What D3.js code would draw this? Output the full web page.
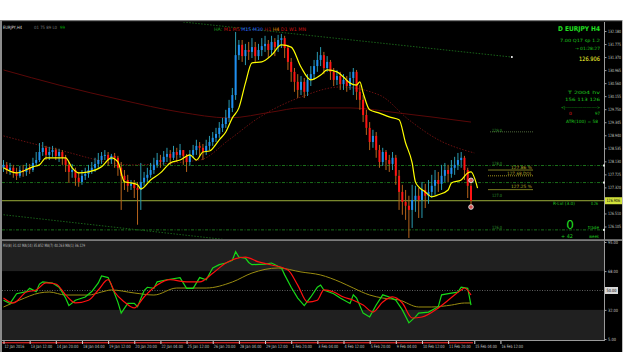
<!DOCTYPE html>
<html>
<head>
  <meta charset="UTF-8">
  <style>
    body { margin: 0; background-color: white; }
    svg { display: block; }
    text { font-family: "DejaVu Sans", sans-serif; }
  </style>
</head>
<body>
<svg></svg>
<script src="https://d3js.org/d3.v7.min.js"></script>
<script>

let width = 625, height = 352;

// EURJPY H4 bars (open = previous close)
let firstOpen = 127.93;
let closes = [128.02,127.86,127.93,127.80,127.68,127.86,127.80,127.93,127.86,128.08,
  128.17,128.42,128.55,128.33,128.42,128.48,128.30,128.42,128.24,128.02,
  127.80,127.86,127.62,127.49,127.68,127.74,127.86,127.93,128.05,128.17,
  128.30,128.33,128.17,128.30,128.24,127.93,127.68,127.55,127.37,127.43,
  127.30,127.24,127.49,127.62,127.71,127.86,128.02,128.17,128.11,128.27,
  128.36,128.24,128.42,128.33,128.48,128.30,128.11,128.33,128.48,128.61,
  128.55,128.42,128.61,128.73,128.86,128.98,129.17,129.29,129.48,129.79,
  130.19,131.43,131.75,131.40,131.59,131.53,131.68,131.40,131.59,131.71,
  131.78,131.59,131.84,131.68,131.90,131.96,131.65,131.22,130.91,130.60,
  130.35,130.60,130.29,130.66,130.84,131.09,131.28,131.43,131.03,131.22,
  130.91,130.66,130.78,130.53,130.66,130.47,130.72,130.91,130.29,130.04,
  129.57,129.17,128.73,128.92,128.48,128.11,128.42,128.17,128.05,128.24,
  127.68,127.18,126.87,126.75,126.62,126.93,127.06,126.93,127.24,127.06,
  127.18,127.37,127.55,127.43,127.68,127.86,127.74,127.93,128.02,128.17,
  128.24,127.86,127.37,126.91];
let highs = [128.17,128.11,128.08,128.02,127.93,127.99,128.02,128.08,128.05,128.24,
  128.42,128.70,128.73,128.61,128.58,128.61,128.55,128.52,128.48,128.33,
  128.11,128.05,127.93,127.80,127.86,127.93,128.02,128.11,128.24,128.39,
  128.42,128.48,128.42,128.36,128.39,128.30,128.11,127.86,127.71,127.55,
  127.55,127.49,128.08,127.80,127.93,128.08,128.24,128.39,128.33,128.45,
  128.55,128.48,128.61,128.55,128.67,128.48,128.36,128.48,128.64,128.80,
  128.73,128.67,128.80,128.92,129.04,129.17,129.35,129.48,129.73,130.04,
  130.41,132.15,131.90,131.90,131.78,131.84,131.96,131.84,131.78,131.96,
  132.03,131.90,132.03,131.96,132.06,132.09,132.03,131.75,131.34,131.03,
  130.84,130.78,130.72,130.84,131.09,131.28,131.53,131.68,131.53,131.40,
  131.28,131.03,130.97,130.91,130.84,130.78,130.91,131.03,130.97,130.50,
  130.19,129.73,129.35,129.11,129.04,128.64,128.55,128.48,128.33,128.42,
  128.33,127.86,127.40,127.24,127.06,127.40,127.37,127.30,127.49,127.43,
  127.55,127.71,127.86,127.80,128.02,128.08,128.02,128.17,128.27,128.39,
  128.42,128.30,127.93,127.49];
let lows = [127.80,127.74,127.71,127.62,127.55,127.62,127.65,127.68,127.74,127.80,
  127.99,128.11,128.30,128.17,128.17,128.27,128.17,128.11,128.02,127.80,
  127.46,127.62,127.37,127.34,127.40,127.55,127.62,127.74,127.80,127.93,
  128.05,128.17,127.99,128.05,127.93,127.68,126.62,127.24,127.18,127.24,
  126.99,126.16,126.62,127.37,127.49,127.62,127.74,127.93,127.93,128.02,
  128.11,128.02,128.17,128.11,128.24,128.02,127.80,127.99,128.24,128.33,
  128.30,128.17,128.33,128.48,128.61,128.73,128.86,129.04,129.17,129.35,
  129.66,130.04,131.28,131.22,131.12,131.28,131.34,131.22,131.28,131.40,
  131.53,131.34,131.43,131.40,131.53,131.65,131.34,130.97,130.60,130.29,
  130.10,130.19,130.10,130.16,130.47,130.66,130.91,131.09,130.84,130.91,
  130.66,130.47,130.50,130.35,130.35,130.29,130.35,130.19,130.04,129.73,
  129.35,128.95,128.48,128.55,128.24,127.93,127.99,127.86,127.80,127.86,
  127.40,126.62,126.47,126.31,125.75,126.06,126.56,126.37,126.37,126.68,
  126.81,126.99,127.09,127.18,127.24,127.49,127.49,127.62,127.71,127.86,
  127.93,127.55,126.99,126.71];

// moving averages on the price chart: [bar, price]
let maYellow = [[0,127.93],[4,127.77],[9,127.96],[11,128.02],[13,128.24],[17,128.24],[19,128.24],[21,127.93],[23,127.77],[26,127.80],
  [30,127.96],[33,128.24],[35,128.11],[37,127.49],[39,127.46],[41,127.40],[42,127.27],[45,127.55],[48,127.77],[51,128.08],
  [54,128.17],[57,128.33],[59,128.17],[61,128.42],[63,128.45],[66,128.80],[68,129.04],[70,129.48],[72,129.79],[74,130.56],
  [76,131.19],[79,131.22],[82,131.43],[85,131.75],[88,131.68],[91,131.06],[94,130.66],[97,130.81],[99,130.97],[102,130.91],
  [104,130.75],[106,130.56],[108,130.50],[109,130.60],[110,130.26],[112,129.73],[115,129.63],[118,129.51],[121,129.42],[123,128.70],
  [125,128.08],[126,127.49],[127,127.34],[129,127.18],[131,127.03],[133,127.09],[136,127.24],[137,127.46],[140,127.55],[142,127.77],
  [143,127.80],[145,127.30]];
let maSlow = [[0,130.97],[17,130.50],[36,130.04],[54,129.66],[69,129.48],[82,129.66],[91,129.79],[106,129.79],[121,129.63],[143,129.35]];
let maMid = [[0,128.92],[17,128.48],[39,128.02],[60,128.17],[69,128.80],[78,129.48],[91,130.13],[103,130.44],[115,130.19],[124,129.42],[133,128.80],[144,128.39]];

// trend lines and levels
let trendLines = [[[55,132.46],[155.5,131.37]], [[0,126.47],[72,125.65]]];
let hLevels = [128.00, 127.47, 126.00];
let fibLevels = [129.0, 128.0, 127.0, 126.0];
let fibLabels = ["129.0", "128.0", "127.0", "126.0"];
let pivotLevels = [127.86, 127.68, 127.25];
let pivotLabels = ["127.86 %", "127.68.DOL", "127.25 %"];
let currentPrice = 126.906;

// RSI window: [bar, value]
let rsiGreen = [[0,41],[2,38],[4,47],[7,49],[8,52],[10,49],[11,56],[12,58],[15,57],[17,53],[19,43],[20,36],[22,41],[25,44],[27,49],
  [29,57],[30,63.5],[32,62],[33,55],[35,39],[36,29],[38,38],[40,38],[41,35],[43,50],[44,53],[46,52],[47,58],[50,60],[54,62],
  [56,52],[58,52],[60,62],[62,60],[64,71],[66,74],[68,75.5],[70,78],[71,86],[72,81],[74,80],[75,76],[76,74],[80,74.5],[82,75.5],
  [85,71],[86,64.5],[88,53],[90,43],[92,36],[94,44],[96,53],[97,55],[98,50.5],[101,47],[103,43],[106,38],[107,46],[108,43],[110,29],
  [112,25.5],[114,36.5],[116,46],[118,44],[120,41],[122,32],[124,20],[126,25.5],[127,29],[130,30],[133,35],[134,46],[137,47.5],[139,48.5],
  [140,53],[142,52],[143,36.5]];
let rsiRed = [[0,43],[3,38.4],[7,48.6],[10,50.5],[13,57],[16,56],[19,46],[22,38.5],[26,41],[29,50.5],[32,60],[34,48.6],[37,39.3],[40,33.8],
  [43,44],[47,55],[51,60],[56,58],[60,58],[64,66],[68,75.5],[74,81],[78,76.5],[82,73.7],[87,69],[90,55],[93,39.3],[96,41],[98,50.5],
  [101,48.6],[104,44],[107,41],[110,36.5],[113,30],[116,39.3],[119,44],[122,38.4],[125,24.5],[128,25.4],[133,33.8],[136,41],[140,50.5],
  [141,52.3],[143,45.8]];
let rsiOlive = [[0,34.7],[5,41.2],[11,47.7],[14,48.6],[19,45.8],[26,45.8],[30,48.6],[33,50.5],[40,47.7],[46,45.8],[53,52.3],[62,52.3],
  [70,57.9],[76,66.2],[84,70.9],[91,67.2],[97,64.4],[103,57.9],[107,52.3],[112,45.8],[116,43],[121,41.2],[127,34.7],[131,34.7],
  [137,36.5],[141,38.4],[143,38.4]];

// axis labels
let priceTicks = [132.18,131.775,131.37,130.965,130.56,130.155,129.75,129.345,128.94,128.535,128.13,127.725,127.32,126.51,126.105];
let rsiTicks = [95, 68, 32, 5];
let timeLabels = ["12 Jan 2016","13 Jan 12:00","14 Jan 20:00","18 Jan 04:00","19 Jan 12:00","20 Jan 20:00","22 Jan 04:00",
  "25 Jan 12:00","26 Jan 20:00","28 Jan 04:00","29 Jan 12:00","1 Feb 20:00","3 Feb 04:00","4 Feb 12:00","5 Feb 20:00",
  "9 Feb 04:00","10 Feb 12:00","11 Feb 20:00","15 Feb 04:00","16 Feb 12:00"];

let svg = d3.select("svg").attr("width", width).attr("height", height);

// layout
let L = 2, R = 604, mainTop = 22, mainBot = 239, subTop = 241, subBot = 340;

let x = d3.scaleLinear().domain([0, 143]).range([3.5, 471]);
let yP = d3.scaleLinear().domain([126.105, 132.18]).range([226.5, 31]);
let yR = d3.scaleLinear().domain([5, 95]).range([339, 242]);

// window background + frame
svg.append("rect").attr("x", 0).attr("y", 20).attr("width", 622).attr("height", 332).attr("fill", "black");
svg.append("rect").attr("x", 0).attr("y", 20).attr("width", 622).attr("height", 1.2).attr("fill", "#7a7a7a");
svg.append("rect").attr("x", 0).attr("y", 20).attr("width", 2).attr("height", 332).attr("fill", "#8c8c8c");
svg.append("rect").attr("x", 622).attr("y", 20).attr("width", 1).attr("height", 332).attr("fill", "#bdbdbd");

let defs = svg.append("defs");
defs.append("clipPath").attr("id", "mainClip").append("rect")
  .attr("x", L).attr("y", mainTop).attr("width", R - L).attr("height", mainBot - mainTop);
defs.append("clipPath").attr("id", "subClip").append("rect")
  .attr("x", L).attr("y", subTop).attr("width", R - L).attr("height", subBot - subTop);

let main = svg.append("g").attr("clip-path", "url(#mainClip)");
let sub = svg.append("g").attr("clip-path", "url(#subClip)");

// ---------- main chart ----------

// horizontal dotted levels
main.selectAll(".hlev").data(hLevels).enter().append("line")
  .attr("x1", L).attr("x2", R).attr("y1", d => yP(d)).attr("y2", d => yP(d))
  .attr("stroke", "#1d7a1d").attr("stroke-width", 0.9).attr("stroke-dasharray", "3,1.5,1,1.5");

// trend lines
main.selectAll(".trend").data(trendLines).enter().append("line")
  .attr("x1", d => x(d[0][0])).attr("y1", d => yP(d[0][1]))
  .attr("x2", d => x(d[1][0])).attr("y2", d => yP(d[1][1]))
  .attr("stroke", "#1b6b1b").attr("stroke-width", 0.9).attr("stroke-dasharray", "1.5,1.5");
main.append("circle").attr("cx", x(trendLines[0][1][0])).attr("cy", yP(trendLines[0][1][1]))
  .attr("r", 1).attr("fill", "white");

// helper for small fitted texts
function txt(parent, xp, yp, s, size, color, anchor, len, weight) {
  let t = parent.append("text").attr("x", xp).attr("y", yp).text(s)
    .attr("font-size", size).attr("fill", color)
    .attr("text-anchor", anchor || "start").attr("font-weight", weight || "normal");
  if (len) t.attr("textLength", len).attr("lengthAdjust", "spacingAndGlyphs");
  return t;
}

// fib levels (short segments) and labels
main.append("line").attr("x1", 490).attr("x2", 533).attr("y1", yP(fibLevels[0]) - 1.5).attr("y2", yP(fibLevels[0]) - 1.5)
  .attr("stroke", "#5f7f4a").attr("stroke-width", 0.8).attr("stroke-dasharray", "1,1");
fibLevels.forEach((d, i) => txt(main, 492, yP(d) - 1, fibLabels[i], 4.4, "#2e9a2e", "start", 10));

main.selectAll(".piv").data(pivotLevels).enter().append("line")
  .attr("x1", 488).attr("x2", 533).attr("y1", d => yP(d)).attr("y2", d => yP(d))
  .attr("stroke", (d, i) => i == 1 ? "#b0a020" : "#8a8a22").attr("stroke-width", 0.9)
  .attr("stroke-dasharray", (d, i) => i == 1 ? "1,1" : null);
pivotLevels.forEach((d, i) => txt(main, 532, yP(d) - 1.2, pivotLabels[i], 4.4, "#b8a828", "end", i == 1 ? 25 : 21));

// long moving averages
let maLine = d3.line().x(d => x(d[0])).y(d => yP(d[1])).curve(d3.curveMonotoneX);
main.append("path").attr("d", maLine(maSlow)).attr("fill", "none")
  .attr("stroke", "#5a0808").attr("stroke-width", 1);
main.append("path").attr("d", maLine(maMid)).attr("fill", "none")
  .attr("stroke", "#6a1010").attr("stroke-width", 1).attr("stroke-dasharray", "1.5,1.5");

// current price line
main.append("line").attr("x1", L).attr("x2", R).attr("y1", yP(currentPrice)).attr("y2", yP(currentPrice))
  .attr("stroke", "#9cae3a").attr("stroke-width", 1);

// candles
let bars = closes.map((c, i) => ({ i: i, o: i ? closes[i - 1] : firstOpen, h: highs[i], l: lows[i], c: c }));

main.selectAll(".wick").data(bars).enter().append("line")
  .attr("x1", d => x(d.i)).attr("x2", d => x(d.i))
  .attr("y1", d => yP(d.h)).attr("y2", d => yP(d.l))
  .attr("stroke", d => d.c >= d.o ? "#2a9bb0" : "#b8641c").attr("stroke-width", 1);

main.selectAll(".body").data(bars).enter().append("rect")
  .attr("x", d => x(d.i) - 1).attr("width", 2)
  .attr("y", d => yP(Math.max(d.o, d.c)))
  .attr("height", d => Math.max(1, Math.abs(yP(d.o) - yP(d.c))))
  .attr("fill", d => d.c >= d.o ? "#1f8ff0" : "#ff1414");

// yellow MA
main.append("path").attr("d", maLine(maYellow)).attr("fill", "none")
  .attr("stroke", "#ffff00").attr("stroke-width", 1.2);

// markers on the last bar
let last = bars[bars.length - 1];
[last.h + 0.05, last.l].forEach(p => {
  main.append("circle").attr("cx", x(last.i)).attr("cy", yP(p)).attr("r", 2.3)
    .attr("fill", "#d05050").attr("stroke", "#e8e8e8").attr("stroke-width", 0.9);
});

// ---------- texts on main chart ----------
txt(svg, 3, 29, "EURJPY,H4", 4.4, "#d8d8d8", "start", 19);
txt(svg, 34, 29, "01 75 89 L0", 4.4, "#7a7a7a", "start", 23);
txt(svg, 60, 29, "99", 4.4, "#00b000", "start", 5);

let tf = svg.append("text").attr("x", 214).attr("y", 31).attr("font-size", 4.8)
  .attr("textLength", 92).attr("lengthAdjust", "spacingAndGlyphs");
[["HA:", "#1fa01f"], ["M1", "#c01010"], ["M5", "#c01010"], ["M15", "#2a62ff"], ["M30", "#2a62ff"],
 ["H1", "#b01010"], ["H4", "#e09000"], ["D1", "#d01010"], ["W1", "#d01010"], ["MN", "#d01010"]]
  .forEach((t, i) => tf.append("tspan").text((i ? " " : "") + t[0]).attr("fill", t[1]));

let G = "#1fc81f";
txt(svg, 600, 31, "D  EURJPY H4", 6.6, "#22e022", "end", 42, "bold");
txt(svg, 600, 42, "7.00 Q17    sp 1.2", 4.4, G, "end", 40);
txt(svg, 600, 50, "\u2192  01:28:27", 4.4, G, "end", 25);
txt(svg, 600, 61, "126.906", 6, "#ffff30", "end", 21);
txt(svg, 600, 94, "T   2004      hv", 4.4, G, "end", 32);
txt(svg, 600, 101, "156    113    126", 4.4, G, "end", 35);
txt(svg, 600, 109, "<|------------------------>", 4.2, G, "end", 39);
txt(svg, 569, 115, "0", 4.4, "#e02020");
txt(svg, 600, 115, "97", 4.4, G, "end", 5);
txt(svg, 598, 123, "ATR(100) = 58", 4.4, G, "end", 32);
txt(svg, 553, 205, "R-Lvl (3.0)", 4.4, G, "start", 22);
txt(svg, 598, 205, "0.26", 4.4, G, "end", 7);
txt(svg, 570, 229, "0", 12, "#22e022", "middle");
txt(svg, 599, 229, "trade", 4.4, G, "end", 11);
txt(svg, 561, 238, "+   42", 5, G, "start", 12);
txt(svg, 599, 238, "week", 4.4, G, "end", 10);

// price axis
svg.append("line").attr("x1", 604.5).attr("x2", 604.5).attr("y1", mainTop).attr("y2", subBot)
  .attr("stroke", "#9a9a9a").attr("stroke-width", 1);
let pAxis = svg.append("g").attr("transform", "translate(604.5,0)")
  .call(d3.axisRight(yP).tickValues(priceTicks).tickSize(2).tickFormat(d3.format(".3f")));
pAxis.select(".domain").remove();
pAxis.selectAll("line").attr("stroke", "#9a9a9a");
pAxis.selectAll("text").attr("font-size", 4.4).attr("fill", "#c8c8c8").attr("x", 3.5)
  .attr("font-family", "DejaVu Sans, sans-serif").attr("textLength", 13).attr("lengthAdjust", "spacingAndGlyphs");
hLevels.forEach(p => svg.append("rect").attr("x", 603).attr("y", yP(p) - 1).attr("width", 2).attr("height", 2).attr("fill", "#e0e0e0"));
svg.append("rect").attr("x", 605).attr("y", yP(currentPrice) - 3.5).attr("width", 17).attr("height", 7).attr("fill", "#d2e23c");
txt(svg, 606.5, yP(currentPrice) + 1.6, currentPrice.toFixed(3), 4.4, "black", "start", 13.5);

// separator
svg.append("rect").attr("x", L).attr("y", 239.3).attr("width", 620).attr("height", 1.6).attr("fill", "#8a8a8a");

// ---------- RSI window ----------
sub.append("rect").attr("x", L).attr("y", subTop).attr("width", R - L).attr("height", yR(68) - subTop).attr("fill", "#202020");
sub.append("rect").attr("x", L).attr("y", yR(32)).attr("width", R - L).attr("height", subBot - yR(32)).attr("fill", "#202020");
sub.append("line").attr("x1", L).attr("x2", R).attr("y1", yR(50)).attr("y2", yR(50))
  .attr("stroke", "#777").attr("stroke-width", 0.8).attr("stroke-dasharray", "1,1.5");

let rLine = d3.line().x(d => x(d[0])).y(d => yR(d[1]));
sub.append("path").attr("d", rLine.curve(d3.curveMonotoneX)(rsiOlive)).attr("fill", "none")
  .attr("stroke", "#9a8c10").attr("stroke-width", 1);
sub.append("path").attr("d", rLine.curve(d3.curveLinear)(rsiGreen)).attr("fill", "none")
  .attr("stroke", "#18d818").attr("stroke-width", 1.2);
sub.append("path").attr("d", rLine.curve(d3.curveMonotoneX)(rsiRed)).attr("fill", "none")
  .attr("stroke", "#ff1010").attr("stroke-width", 1.2);

txt(svg, 3, 247, "RSI(8) 31.02  MA(14) 35.852  MA(7) 40.263  MA(1) 36.129", 4.4, "#bdbdbd", "start", 82);

let rAxis = svg.append("g").attr("transform", "translate(604.5,0)")
  .call(d3.axisRight(yR).tickValues(rsiTicks).tickSize(2).tickFormat(d3.format(".2f")));
rAxis.select(".domain").remove();
rAxis.selectAll("line").attr("stroke", "#9a9a9a");
rAxis.selectAll("text").attr("font-size", 4.4).attr("fill", "#c8c8c8").attr("x", 3.5)
  .attr("font-family", "DejaVu Sans, sans-serif").attr("textLength", d => d < 10 ? 8 : 10)
  .attr("lengthAdjust", "spacingAndGlyphs");
svg.append("rect").attr("x", 605).attr("y", yR(50) - 3.5).attr("width", 13).attr("height", 7).attr("fill", "#d8d8d8");
txt(svg, 606.5, yR(50) + 1.6, "50.00", 4.4, "black", "start", 10);

// ---------- time axis ----------
svg.append("rect").attr("x", L).attr("y", 340).attr("width", 603).attr("height", 1).attr("fill", "#9a9a9a");
svg.append("rect").attr("x", L).attr("y", 342).attr("width", x(143) + 2 - L).attr("height", 1.4).attr("fill", "#c82020");

let tickBars = timeLabels.map((d, i) => i * 8);
let tAxis = svg.append("g").attr("transform", "translate(0,341)")
  .call(d3.axisBottom(x).tickValues(tickBars).tickSize(3).tickFormat((d, i) => timeLabels[i]));
tAxis.select(".domain").remove();
tAxis.selectAll("line").attr("stroke", "#d0d0d0");
tAxis.selectAll("text").attr("font-size", 4.4).attr("fill", "#c8c8c8").attr("text-anchor", "start")
  .attr("dx", 0.5).attr("y", 4).attr("font-family", "DejaVu Sans, sans-serif")
  .attr("textLength", (d, i) => timeLabels[i].length * 1.8).attr("lengthAdjust", "spacingAndGlyphs");

</script>
</body>
</html>
